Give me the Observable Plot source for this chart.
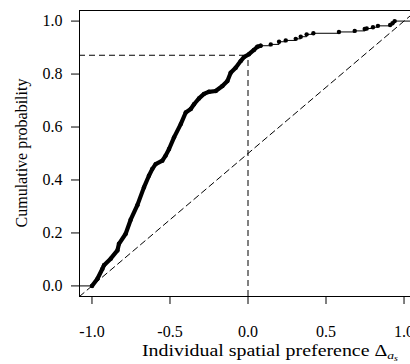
<!DOCTYPE html>
<html>
<head>
<meta charset="utf-8">
<script src="https://cdn.jsdelivr.net/npm/d3@7"></script>
<script src="https://cdn.jsdelivr.net/npm/@observablehq/plot@0.6"></script>
<style>
html,body{margin:0;padding:0;overflow:hidden;background:#fff;}
#chart{width:410px;height:364px;overflow:hidden;position:relative;}
#chart svg{max-width:none !important;display:block;}
</style>
</head>
<body>
<div id="chart"></div>
<script>
// Dense part of the empirical CDF (points overlap into a thick trace)
const denseX = [-1.0, -0.965, -0.933, -0.923, -0.88, -0.837, -0.827, -0.784, -0.752, -0.709, -0.667, -0.635, -0.613, -0.592, -0.549, -0.528, -0.506, -0.474, -0.431, -0.399, -0.367, -0.346, -0.314, -0.282, -0.25, -0.207, -0.164, -0.132, -0.111, -0.079, -0.047, -0.026, 0.006, 0.038, 0.06, 0.081];
const denseY = [0.0, 0.027, 0.065, 0.078, 0.103, 0.134, 0.159, 0.197, 0.25, 0.305, 0.372, 0.416, 0.442, 0.46, 0.473, 0.492, 0.517, 0.561, 0.611, 0.655, 0.668, 0.686, 0.708, 0.725, 0.733, 0.736, 0.755, 0.774, 0.805, 0.824, 0.849, 0.864, 0.875, 0.891, 0.903, 0.907];
// Sparse upper tail, individual observations
const tailX = [0.146, 0.199, 0.242, 0.306, 0.338, 0.376, 0.419, 0.583, 0.684, 0.748, 0.761, 0.801, 0.833, 0.911, 0.926, 0.94];
const tailY = [0.912, 0.922, 0.927, 0.933, 0.941, 0.95, 0.954, 0.959, 0.963, 0.97, 0.972, 0.977, 0.982, 0.985, 0.992, 1.0];
// Reference lines
const zeroPrefX = 0.0;
const cdfAtZero = 0.871;
const diagX = [-1.08, 1.08];
const diagY = [-0.04, 1.04];
// Axes
const xDomain = [-1.08, 1.08];
const yDomain = [-0.04, 1.04];
const xTicks = [-1.0, -0.5, 0.0, 0.5, 1.0];
const yTicks = [0.0, 0.2, 0.4, 0.6, 0.8, 1.0];
const xTitle = "Individual spatial preference ";
const yTitle = "Cumulative probability";

const dense = denseX.map((x, i) => ({x, y: denseY[i]}));
const tail = tailX.map((x, i) => ({x, y: tailY[i]}));
const lastDense = dense[dense.length - 1];
const tailStep = [lastDense].concat(tail, [{x: xDomain[1], y: tailY[tailY.length - 1]}]);
const diag = diagX.map((x, i) => ({x, y: diagY[i]}));
const fmt = d => d.toFixed(1);

const dash = "6,4";
const plot = Plot.plot({
  width: 420,
  height: 364,
  marginLeft: 79,
  marginRight: 4,
  marginTop: 10,
  marginBottom: 68,
  style: {fontFamily: "'Liberation Serif', serif", fontSize: "16px", color: "#000", background: "#fff"},
  x: {domain: xDomain, ticks: xTicks, tickFormat: fmt, tickSize: 8, tickPadding: 21, label: null},
  y: {domain: yDomain, ticks: yTicks, tickFormat: fmt, tickSize: 8, tickPadding: 9, label: null},
  marks: [
    Plot.line(diag, {x: "x", y: "y", stroke: "#000", strokeWidth: 1, strokeDasharray: dash}),
    Plot.ruleY([cdfAtZero], {x1: xDomain[0], x2: zeroPrefX, stroke: "#000", strokeWidth: 1, strokeDasharray: dash}),
    Plot.ruleX([zeroPrefX], {y1: yDomain[0], y2: cdfAtZero, stroke: "#000", strokeWidth: 1, strokeDasharray: dash}),
    Plot.ruleY([denseY[0]], {x1: xDomain[0], x2: denseX[0], stroke: "#000", strokeWidth: 1}),
    Plot.line(tailStep, {x: "x", y: "y", curve: "step-after", stroke: "#000", strokeWidth: 1}),
    Plot.line(dense, {x: "x", y: "y", stroke: "#000", strokeWidth: 4.2, strokeLinecap: "round", strokeLinejoin: "round"}),
    Plot.dot(dense.concat(tail), {x: "x", y: "y", r: 2.2, fill: "#000", stroke: "none"}),
    Plot.frame({stroke: "#000", strokeWidth: 1})
  ]
});

const svg = d3.select(plot);
// y-axis title (rotated)
svg.append("text")
  .attr("transform", "translate(27,153) rotate(-90)")
  .attr("text-anchor", "middle")
  .attr("font-family", "'Liberation Serif', serif")
  .attr("font-size", 16)
  .attr("fill", "#000")
  .text(yTitle);
// x-axis title with Delta_{a_s}
const xt = svg.append("text")
  .attr("x", 142).attr("y", 356)
  .attr("text-anchor", "start")
  .attr("font-family", "'Liberation Serif', serif")
  .attr("font-size", 16)
  .attr("textLength", 256)
  .attr("lengthAdjust", "spacingAndGlyphs")
  .attr("fill", "#000");
xt.append("tspan").text(xTitle + "\u0394");
xt.append("tspan").attr("font-size", 11).attr("font-style", "italic").attr("dy", 2.5).text("a");
xt.append("tspan").attr("font-size", 8).attr("font-style", "italic").attr("dy", 2).text("s");

document.getElementById("chart").appendChild(plot);
</script>
</body>
</html>
